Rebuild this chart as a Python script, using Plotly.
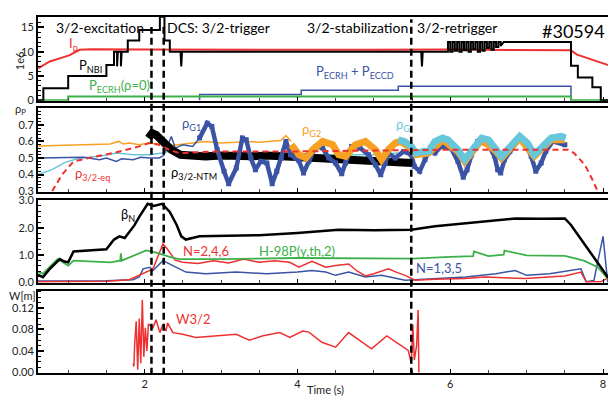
import plotly.graph_objects as go
from plotly.subplots import make_subplots

# ---------------- Panel 1: powers / current (1e6) ----------------
ip_t = [0.605, 0.76, 0.9, 1.02, 1.15, 1.3, 2.0, 3.0, 4.0, 5.0, 6.0, 7.0, 7.58, 7.66, 8.117]
ip_v = [6.6, 8.0, 8.7, 9.3, 10.4, 10.5, 10.45, 10.4, 10.45, 10.4, 10.45, 10.4, 10.3, 9.4, 7.0]

nbi_t = [0.605, 0.675, 0.675, 1.0, 1.0, 1.5, 1.5, 1.6, 1.6, 1.64, 1.64, 1.65, 1.69, 1.69, 1.70,
         1.78, 1.78, 1.93, 1.93, 2.2, 2.2, 2.26, 2.26, 2.33, 2.33, 2.47, 2.48, 2.49,
         5.62, 5.63, 5.64, 5.97,
         5.97, 6.0, 6.0, 6.03, 6.03, 6.06, 6.06, 6.09, 6.09, 6.12, 6.12, 6.15, 6.15, 6.18,
         6.18, 6.21, 6.21, 6.24, 6.24, 6.27, 6.27, 6.3, 6.3, 6.33, 6.33, 6.36, 6.36, 6.39,
         6.39, 6.42, 6.42, 6.45, 6.45, 6.48, 6.48, 6.51, 6.51, 6.54, 6.54, 6.57, 6.57, 6.6,
         6.6, 6.63, 6.63, 6.66, 6.66, 6.7,
         7.58, 7.58, 7.67, 7.67, 7.73, 7.73, 7.86, 7.86, 7.97, 7.97, 8.117]
nbi_v = [0, 0, 2.5, 2.5, 5, 5, 7.3, 7.3, 10, 10, 7, 10, 10, 7, 10,
         10, 12.3, 12.3, 14.5, 14.5, 17.2, 17.2, 12.3, 12.3, 10, 10, 7, 10,
         10, 7, 10, 10,
         12, 12, 10, 10, 12, 12, 10.2, 10.2, 12, 12, 10, 10, 12, 12,
         10.3, 10.3, 12, 12, 10, 10, 12, 12, 10.5, 10.5, 12, 12, 10, 10,
         12, 12, 10.2, 10.2, 12, 12, 10.8, 10.8, 12, 12, 10.4, 10.4, 12, 12,
         11, 11, 12, 12, 11.2, 12,
         12, 7.1, 7.1, 4.7, 4.7, 4.7, 4.7, 2.7, 2.7, 0, 0]

ecrh0_t = [0.605, 1.0, 1.0, 7.58, 7.58, 8.117]
ecrh0_v = [0, 0, 0.8, 0.8, 0, 0]

ececcd_t = [2.72, 2.72, 4.05, 4.05, 5.32, 5.32, 7.58, 7.58]
ececcd_v = [0, 1.2, 1.2, 2.1, 2.1, 2.9, 2.9, 0]

# ---------------- Panel 2: rho_p ----------------
g1_thin_t = [0.605, 0.96, 1.2, 1.41, 1.5, 1.63, 1.7, 1.85, 1.95, 2.06, 2.19, 2.25, 2.35, 2.4, 2.5, 2.63, 2.72]
g1_thin_v = [0.5, 0.505, 0.505, 0.49, 0.5, 0.48, 0.495, 0.49, 0.505, 0.5, 0.5, 0.515, 0.63, 0.56, 0.58, 0.57, 0.62]
g1_t = [2.72, 2.82, 2.88, 2.95, 3.04, 3.1, 3.2, 3.28, 3.33, 3.39, 3.45, 3.52, 3.6, 3.67, 3.73, 3.79,
        3.85, 3.91, 3.98, 4.02, 4.08, 4.15, 4.24, 4.33, 4.41, 4.5, 4.58, 4.63, 4.71, 4.82, 4.93,
        5.02, 5.09, 5.15, 5.19, 5.28, 5.39, 5.49, 5.53, 5.6, 5.67, 5.74, 5.8, 5.88, 6.01, 6.1,
        6.17, 6.22, 6.28, 6.36, 6.5, 6.58, 6.62, 6.66, 6.71, 6.78, 6.89, 6.97, 7.06, 7.12, 7.19,
        7.25, 7.34, 7.5]
g1_v = [0.62, 0.71, 0.69, 0.55, 0.42, 0.345, 0.44, 0.62, 0.61, 0.5, 0.43, 0.48, 0.47, 0.345, 0.42, 0.5,
        0.6, 0.52, 0.5, 0.483, 0.41, 0.48, 0.57, 0.56, 0.5, 0.47, 0.405, 0.47, 0.57, 0.56, 0.52,
        0.46, 0.4, 0.47, 0.53, 0.5, 0.54, 0.52, 0.45, 0.42, 0.49, 0.56, 0.53, 0.57, 0.56, 0.48,
        0.385, 0.43, 0.52, 0.6, 0.58, 0.51, 0.43, 0.41, 0.49, 0.54, 0.61, 0.6, 0.51, 0.42, 0.47,
        0.54, 0.6, 0.58]

g2_thin_t = [0.605, 0.8, 1.0, 1.2, 1.4, 1.55, 1.66, 1.72, 1.8, 1.93, 2.05, 2.2, 2.35, 2.5, 2.63,
             2.8, 3.0, 3.2, 3.33, 3.5, 3.67, 3.78, 3.85, 3.92]
g2_thin_v = [0.572, 0.575, 0.575, 0.58, 0.58, 0.585, 0.6, 0.585, 0.59, 0.58, 0.59, 0.585, 0.575, 0.585, 0.59,
             0.6, 0.59, 0.595, 0.6, 0.595, 0.6, 0.605, 0.635, 0.6]
g2_t = [3.92, 4.02, 4.11, 4.2, 4.33, 4.46, 4.54, 4.63, 4.76, 4.89, 5.02, 5.1, 5.19, 5.28, 5.35,
        5.49, 5.55, 5.72, 5.9, 6.1, 6.19, 6.41, 6.6, 6.67, 6.91, 7.1, 7.32, 7.5]
g2_v = [0.58, 0.52, 0.5, 0.55, 0.6, 0.58, 0.52, 0.51, 0.58, 0.6, 0.55, 0.49, 0.55, 0.59, 0.6,
        0.56, 0.52, 0.53, 0.61, 0.54, 0.48, 0.61, 0.54, 0.5, 0.62, 0.51, 0.61, 0.61]

g3_thin_t = [0.605, 0.79, 0.96, 1.15, 1.41, 1.63, 1.85, 2.06, 2.23, 2.32, 2.5, 3.0, 3.5, 4.0, 4.5, 5.0, 5.32]
g3_thin_v = [0.4, 0.43, 0.474, 0.5, 0.51, 0.53, 0.52, 0.52, 0.53, 0.54, 0.525, 0.52, 0.52, 0.52, 0.52, 0.52, 0.53]
g3_t = [5.32, 5.4, 5.49, 5.55, 5.65, 5.72, 5.8, 5.9, 5.97, 6.1, 6.19, 6.28, 6.41, 6.5, 6.6, 6.67,
        6.75, 6.91, 7.01, 7.1, 7.19, 7.32, 7.45, 7.51]
g3_v = [0.61, 0.6, 0.57, 0.53, 0.54, 0.54, 0.6, 0.62, 0.61, 0.55, 0.49, 0.55, 0.62, 0.61, 0.55, 0.51,
        0.55, 0.63, 0.59, 0.52, 0.56, 0.62, 0.63, 0.62]

ntm_t = [2.05, 2.1, 2.15, 2.2, 2.3, 2.35, 2.47, 2.6, 2.8, 3.0, 3.2, 3.4, 3.6, 3.8, 4.0, 4.2, 4.4,
         4.6, 4.8, 5.0, 5.2, 5.4, 5.5]
ntm_v = [0.62, 0.65, 0.64, 0.62, 0.58, 0.55, 0.52, 0.515, 0.51, 0.515, 0.51, 0.51, 0.515, 0.51, 0.5,
         0.5, 0.49, 0.49, 0.48, 0.48, 0.475, 0.47, 0.47]

eq_t = [0.79, 0.92, 1.07, 1.28, 1.5, 1.63, 1.76, 1.93, 2.06, 2.19, 2.32, 2.45, 2.7, 3.0, 4.0, 5.0,
        6.0, 7.0, 7.54, 7.62, 7.76, 7.85, 7.93]
eq_v = [0.3, 0.4, 0.48, 0.5, 0.52, 0.535, 0.55, 0.57, 0.59, 0.58, 0.55, 0.53, 0.535, 0.54, 0.54, 0.545,
        0.55, 0.55, 0.55, 0.53, 0.46, 0.38, 0.3]

# ---------------- Panel 3: beta_N, H98, mode amplitudes ----------------
betan_t = [0.605, 0.67, 0.75, 0.89, 0.95, 1.0, 1.07, 1.2, 1.5, 1.6, 1.67, 1.74, 1.8, 1.87, 1.93,
           2.04, 2.12, 2.23, 2.33, 2.42, 2.48, 2.54, 2.72, 3.0, 3.5, 4.0, 4.54, 5.0, 5.49, 5.8,
           6.2, 6.5, 6.85, 7.2, 7.5, 7.58, 7.67, 7.8, 7.93, 8.06, 8.117]
betan_v = [0.26, 0.17, 0.45, 0.84, 0.75, 0.72, 1.12, 1.14, 1.2, 1.56, 1.68, 1.62, 1.86, 2.1, 2.4,
           2.88, 2.8, 2.88, 2.58, 2.1, 1.68, 1.56, 1.68, 1.7, 1.72, 1.8, 1.92, 1.9, 1.92, 2.05,
           2.16, 2.25, 2.34, 2.33, 2.34, 2.1, 1.74, 1.26, 0.72, 0.18, 0.05]

h98_t = [0.605, 0.67, 0.86, 0.95, 1.0, 1.07, 1.3, 1.55, 1.68, 1.69, 1.70, 1.8, 2.02, 2.15, 2.35,
         2.45, 3.0, 4.0, 5.0, 5.5, 6.0, 6.3, 6.31, 6.5, 6.7, 6.71, 7.0, 7.5, 7.75, 7.93, 8.1]
h98_v = [0.36, 0.3, 0.84, 0.7, 0.6, 0.78, 0.74, 0.72, 0.78, 1.05, 0.78, 0.9, 1.16, 1.08, 0.9,
         0.84, 0.84, 0.88, 0.86, 0.86, 0.92, 0.95, 1.12, 0.95, 1.0, 1.15, 0.98, 0.96, 0.78, 0.54, 0.0]

n246_t = [0.605, 1.5, 1.8, 1.93, 2.02, 2.11, 2.24, 2.3, 2.4, 2.5, 2.7, 2.9, 3.1, 3.3, 3.5, 3.7,
          3.9, 4.02, 4.19, 4.37, 4.5, 4.67, 4.78, 4.89, 5.0, 5.19, 5.3, 5.41, 5.54, 5.8, 6.19,
          6.45, 6.98, 7.3, 7.5, 7.71, 7.78, 7.97, 8.1]
n246_v = [0.0, 0.02, 0.08, 0.24, 0.36, 0.48, 1.4, 1.2, 0.8, 0.72, 0.68, 0.78, 0.7, 0.84, 0.72, 0.78,
          0.72, 0.54, 0.76, 0.54, 0.6, 0.66, 0.4, 0.22, 0.3, 0.48, 0.35, 0.24, 0.06, 0.1, 0.12,
          0.18, 0.12, 0.18, 0.22, 0.36, 0.0, 0.0, 0.2]

n135_t = [0.605, 1.5, 1.85, 1.93, 1.98, 2.07, 2.11, 2.19, 2.24, 2.37, 2.54, 2.8, 3.2, 3.6, 4.0,
          4.19, 4.37, 4.5, 4.67, 4.89, 5.1, 5.41, 5.85, 6.2, 6.6, 6.85, 7.0, 7.3, 7.71, 7.78,
          7.88, 8.0, 8.06, 8.117]
n135_v = [0.03, 0.04, 0.08, 0.18, 0.48, 0.54, 0.42, 0.66, 0.78, 0.6, 0.36, 0.3, 0.36, 0.3, 0.36,
          0.42, 0.36, 0.24, 0.36, 0.18, 0.24, 0.06, 0.12, 0.18, 0.3, 0.42, 0.24, 0.3, 0.48, 0.0,
          0.05, 1.68, 0.0, 0.0]

# ---------------- Panel 4: island width W3/2 ----------------
w_t = [1.85, 1.86, 1.87, 1.89, 1.91, 1.93, 1.95, 1.97, 1.99, 2.01, 2.03, 2.05, 2.11, 2.15, 2.2,
       2.24, 2.28, 2.3, 2.37, 2.5, 2.67, 2.89, 3.2, 3.37, 3.55, 3.77, 3.9, 4.07, 4.15, 4.32, 4.5,
       4.67, 4.97, 5.17, 5.45, 5.49, 5.51, 5.53, 5.56, 5.58, 5.585, 5.59]
w_v = [0.017, 0.011, 0.053, 0.095, 0.005, 0.1, 0.017, 0.135, 0.029, 0.083, 0.04, 0.09, 0.083, 0.098, 0.074,
       0.089, 0.077, 0.092, 0.074, 0.071, 0.065, 0.068, 0.071, 0.06, 0.068, 0.074, 0.065, 0.077, 0.075, 0.056, 0.047,
       0.074, 0.044, 0.068, 0.041, 0.017, 0.089, 0.023, 0.05, 0.116, 0.02, 0.0]

# ---------------- phase markers / labels ----------------
phase_times = [2.09, 2.25, 5.49]
phase_labels = ["3/2-excitation", "DCS: 3/2-trigger", "3/2-stabilization", "3/2-retrigger"]
phase_label_t = [1.41, 2.97, 4.78, 6.09]
shot_label = "#30594"

RED = "#ee3030"
BLACK = "#000000"
GREEN = "#3db049"
BLUE = "#3a53a4"
ORANGE = "#f7a021"
CYAN = "#67c7da"
FONT = "Lato"

# the page body has an 8px margin: page pixel (px, py) of the plot area
PAGE_OFF = 8
PL, PR, PT, PB = 38, 614, 10, 373

fig = make_subplots(rows=4, cols=1, shared_xaxes=True, vertical_spacing=0.02)

def add(t, v, row, color, width, dash=None, mode="lines", marker=None):
    fig.add_trace(go.Scatter(x=t, y=v, mode=mode, line=dict(color=color, width=width, dash=dash),
                             marker=marker, showlegend=False, hoverinfo="skip"), row=row, col=1)

# panel 1
add(ececcd_t, ececcd_v, 1, BLUE, 1.5)
add(ecrh0_t, ecrh0_v, 1, GREEN, 2)
add(ip_t, ip_v, 1, RED, 2)
add(nbi_t, nbi_v, 1, BLACK, 2)

# panel 2
add(g3_thin_t, g3_thin_v, 2, CYAN, 1.5)
add(g2_thin_t, g2_thin_v, 2, ORANGE, 1.5)
add(g1_thin_t, g1_thin_v, 2, BLUE, 1.5)
add(ntm_t, ntm_v, 2, BLACK, 8)
add(g1_t, g1_v, 2, BLUE, 4.5, mode="lines+markers", marker=dict(symbol="square", size=5, color=BLUE))
add(g2_t, g2_v, 2, ORANGE, 7)
add(g3_t, g3_v, 2, CYAN, 7)
add(eq_t, eq_v, 2, RED, 2, dash="6px,4px")

# panel 3
add(n135_t, n135_v, 3, BLUE, 1.5)
add(n246_t, n246_v, 3, RED, 1.5)
add(h98_t, h98_v, 3, GREEN, 1.8)
add(betan_t, betan_v, 3, BLACK, 2.5)

# panel 4
add(w_t, w_v, 4, RED, 1.5)

# domains and axes
domains = [[0.7645, 1.0], [0.5096, 0.7452], [0.2534, 0.4848], [0.0, 0.2314]]
yranges = [[-0.1, 17.16], [0.298, 0.803], [-0.035, 3.005], [-0.001, 0.152]]
ydticks = [5, 0.1, 1.0, 0.04]
yminor = [1, 0.02, 0.2, 0.01]
yfmt = ["d", ".1f", ".1f", ".2f"]

for i in range(4):
    sfx = "" if i == 0 else str(i + 1)
    fig.layout["yaxis" + sfx].update(
        domain=domains[i], range=yranges[i], tick0=0, dtick=ydticks[i], tickformat=yfmt[i],
        showline=True, linewidth=2, linecolor="black", mirror=True, ticks="inside",
        ticklen=6, tickwidth=1.5, tickcolor="black", showgrid=False, zeroline=False,
        tickfont=dict(family=FONT, size=11, color="#222"),
        minor=dict(ticks="inside", ticklen=3, tickwidth=1, tickcolor="black", dtick=yminor[i], tick0=0),
    )
    fig.layout["xaxis" + sfx].update(
        range=[0.605, 8.117], tick0=0, dtick=2, showline=True, linewidth=2, linecolor="black",
        mirror=True, ticks="inside", ticklen=4, tickwidth=1.2, tickcolor="black", showgrid=False,
        zeroline=False, tickfont=dict(family=FONT, size=11, color="#222"),
        minor=dict(ticks="inside", ticklen=3, tickwidth=1, tickcolor="#444", dtick=0.5, tick0=0),
    )
fig.layout["yaxis2"].update(tickvals=[0.3, 0.4, 0.5, 0.6, 0.7])

# dashed phase lines
tops = [0.972, 0.972, 0.994]
for tt, top in zip(phase_times, tops):
    fig.add_shape(type="line", xref="x", yref="paper", x0=tt, x1=tt, y0=-0.005, y1=top,
                  line=dict(color="black", width=2.5, dash="7px,4px"), layer="above")

ann = []
def label(text, x, y, row, color, size=13, xanchor="center"):
    sfx = "" if row == 1 else str(row)
    ann.append(dict(text=text, x=x, y=y, xref="x" + sfx, yref="y" + sfx, showarrow=False,
                    font=dict(family=FONT, size=size, color=color), xanchor=xanchor, yanchor="middle"))

for txt, tx in zip(phase_labels, phase_label_t):
    label(txt, tx, 14.9, 1, "black", size=14)
label(shot_label, 7.61, 14.2, 1, "black", size=18)
label("I<sub>p</sub>", 1.07, 11.5, 1, RED)
label("P<sub>NBI</sub>", 1.29, 7.1, 1, "black")
label("P<sub>ECRH</sub>(ρ=0)", 1.67, 3.0, 1, GREEN)
label("P<sub>ECRH</sub> + P<sub>ECCD</sub>", 4.76, 5.9, 1, BLUE)

label("ρ<sub>G1</sub>", 2.62, 0.705, 2, BLUE)
label("ρ<sub>G2</sub>", 4.18, 0.67, 2, ORANGE)
label("ρ<sub>G</sub>", 5.38, 0.70, 2, CYAN)
label("ρ<sub>3/2-eq</sub>", 1.32, 0.405, 2, RED)
label("ρ<sub>3/2-NTM</sub>", 2.65, 0.41, 2, "black")

label("β<sub>N</sub>", 1.78, 2.45, 3, "black")
label("N=2,4,6", 2.81, 1.12, 3, RED)
label("H-98P(y,th,2)", 4.0, 1.12, 3, GREEN)
label("N=1,3,5", 5.85, 0.5, 3, BLUE)

label("W3/2", 2.63, 0.1, 4, RED)

# axis-side captions (page pixel positions -> paper coords)
def pcap(text, px, py, size=11, angle=0):
    ann.append(dict(text=text, x=(px - PL) / (PR - PL), y=(PB - py) / (PB - PT), xref="paper", yref="paper",
                    showarrow=False, textangle=angle, font=dict(family=FONT, size=size, color="#222"),
                    xanchor="center", yanchor="middle"))

pcap("1e6", 19, 55, angle=-90)
pcap("ρ<sub>P</sub>", 20, 104)
pcap("W[m]", 22, 294)
pcap("Time (s)", 327, 390, size=11)

fig.update_layout(width=616 - PAGE_OFF, height=399 - PAGE_OFF,
                  margin=dict(l=PL - PAGE_OFF, r=616 - PR, t=PT - PAGE_OFF, b=399 - PB),
                  paper_bgcolor="white", plot_bgcolor="white", annotations=ann,
                  font=dict(family=FONT))

fig.write_html("out.html")
